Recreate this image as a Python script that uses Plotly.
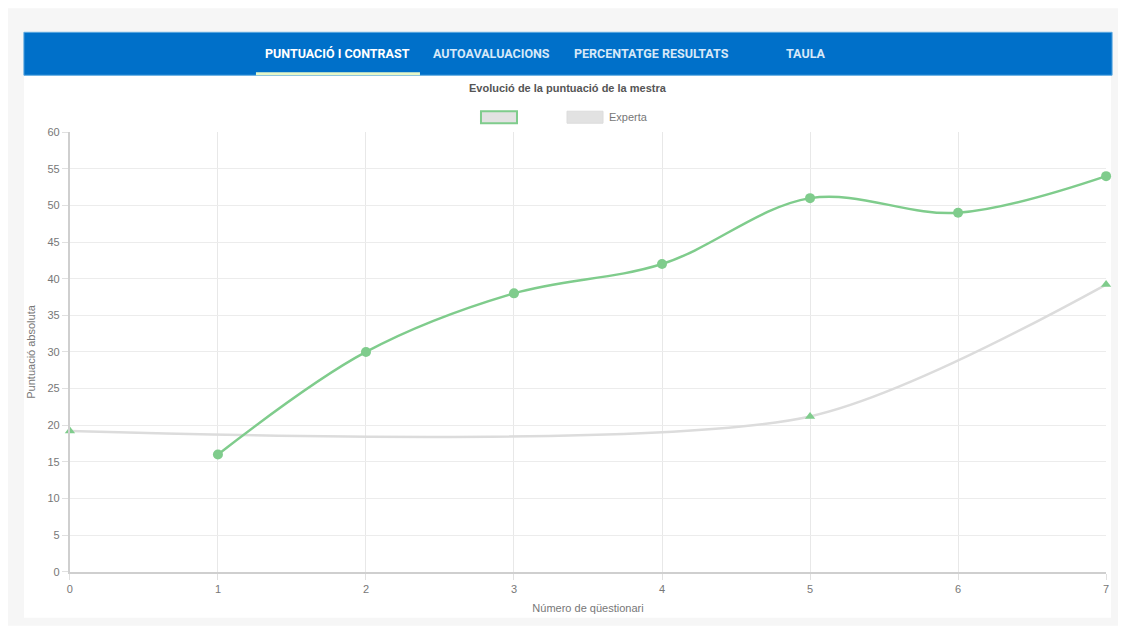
import plotly.graph_objects as go

W, H = 1124, 630

# Data
questionaris = [0, 1, 2, 3, 4, 5, 6, 7]
mestra = [None, 16, 30, 38, 42, 51, 49, 54]
experta = [19.2, None, None, None, None, 21.2, None, 39.2]
tabs = ["PUNTUACIÓ I CONTRAST", "AUTOAVALUACIONS", "PERCENTATGE RESULTATS", "TAULA"]
y_ticks = [0, 5, 10, 15, 20, 25, 30, 35, 40, 45, 50, 55, 60]

GREEN = "#7fcc8c"
GREY_LINE = "#dcdcdc"
BLUE = "#0070c9"

# pixel -> paper helpers (with a slight correction for the page's fit-to-window scaling)
SX, SY = 0.9945, 0.982


def px(x):
    return (W / 2 + (x - W / 2) / SX) / W


def py(y):
    return 1 - (H / 2 + (y - H / 2) / SY) / H


fig = go.Figure()

# Expert line (gaps spanned, smooth curve)
fig.add_trace(go.Scatter(
    x=questionaris, y=experta, mode="lines+markers", connectgaps=True,
    line=dict(color=GREY_LINE, width=2.5, shape="spline", smoothing=0.75),
    marker=dict(symbol="triangle-up", size=9, color=GREEN),
    name="Experta", showlegend=False, cliponaxis=False,
))

# Teacher line
fig.add_trace(go.Scatter(
    x=questionaris, y=mestra, mode="lines+markers",
    line=dict(color=GREEN, width=2.5, shape="spline", smoothing=1.0),
    marker=dict(symbol="circle", size=10, color=GREEN),
    name="", showlegend=False, cliponaxis=False,
))

shapes = [
    # page card
    dict(type="rect", xref="paper", yref="paper", x0=0, x1=1, y0=0, y1=1,
         fillcolor="#ffffff", line=dict(width=0), layer="below"),
    dict(type="rect", xref="paper", yref="paper", x0=px(8), x1=px(1118), y0=py(626), y1=py(8),
         fillcolor="#f6f6f6", line=dict(width=0), layer="below"),
    dict(type="rect", xref="paper", yref="paper", x0=px(24), x1=px(1111), y0=py(618), y1=py(32),
         fillcolor="#ffffff", line=dict(width=0), layer="below"),
    # navigation bar
    dict(type="rect", xref="paper", yref="paper", x0=px(24), x1=px(1112), y0=py(75), y1=py(32),
         fillcolor=BLUE, line=dict(color="#5aa8e0", width=1), layer="below"),
    # active tab underline
    dict(type="rect", xref="paper", yref="paper", x0=px(256), x1=px(420), y0=py(75), y1=py(72),
         fillcolor="#e6f7c8", line=dict(width=0)),
    # legend boxes
    dict(type="rect", xref="paper", yref="paper", x0=px(481), x1=px(517), y0=py(123), y1=py(111),
         fillcolor="#e2e2e2", line=dict(color=GREEN, width=2)),
    dict(type="rect", xref="paper", yref="paper", x0=px(567), x1=px(603), y0=py(123), y1=py(111),
         fillcolor="#e2e2e2", line=dict(color="#dcdcdc", width=1)),
]

annotations = []
tab_x = [338, 492, 651, 806]
for i, (t, x) in enumerate(zip(tabs, tab_x)):
    annotations.append(dict(
        text=f"<b>{t}</b>", x=px(x), y=py(53), xref="paper", yref="paper",
        showarrow=False, xanchor="center", yanchor="middle",
        font=dict(family="Liberation Sans Narrow, Roboto, Arial", size=12.5,
                  color="#ffffff" if i == 0 else "#d6e8f8"),
    ))

annotations += [
    dict(text="<b>Evolució de la puntuació de la mestra</b>", x=px(568), y=py(88),
         xref="paper", yref="paper", showarrow=False, xanchor="center", yanchor="middle",
         font=dict(family="Liberation Sans, Arial", size=11, color="#555555")),
    dict(text="Experta", x=px(607), y=py(117), xref="paper", yref="paper", showarrow=False,
         xanchor="left", yanchor="middle",
         font=dict(family="Liberation Sans, Arial", size=11, color="#777777")),
]

fig.update_layout(
    width=W, height=H,
    margin=dict(l=0, r=0, t=0, b=0),
    paper_bgcolor="#ffffff",
    plot_bgcolor="rgba(0,0,0,0)",
    shapes=shapes,
    annotations=annotations,
    showlegend=False,
    font=dict(family="Liberation Sans, Arial", size=11, color="#777777"),
    xaxis=dict(
        domain=[px(70), px(1106)], range=[0, 7], tickvals=questionaris,
        showgrid=True, gridcolor="#e8e8e8", gridwidth=1,
        showline=True, linecolor="#cfcfcf", linewidth=2,
        ticks="outside", ticklen=6, tickcolor="#e0e0e0",
        zeroline=False, tickfont=dict(size=11, color="#777777"),
        title=dict(text="Número de qüestionari", font=dict(size=11, color="#777777"), standoff=10),
    ),
    yaxis=dict(
        domain=[py(572), py(132)], range=[0, 60], tickvals=y_ticks,
        showgrid=True, gridcolor="#ececec", gridwidth=1,
        showline=True, linecolor="#cfcfcf", linewidth=2,
        ticks="outside", ticklen=6, tickcolor="#e0e0e0",
        zeroline=False, tickfont=dict(size=11, color="#777777"),
        title=dict(text="Puntuació absoluta", font=dict(size=11, color="#777777"), standoff=10),
    ),
)

fig.write_html("out.html")
